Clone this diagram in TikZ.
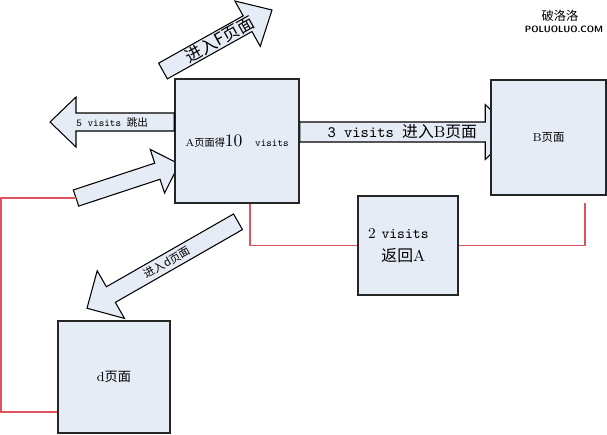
\documentclass[tikz,border=0pt]{standalone}
\usepackage{fontspec}
\newfontfamily\cjk{Noto Sans CJK SC}
\usepackage{xcolor}
\usepackage{tikz}
\usetikzlibrary{positioning,calc,backgrounds}

\definecolor{boxfill}{RGB}{230,236,246}
\definecolor{linkred}{RGB}{222,84,94}

\newcommand{\zh}[1]{{\cjk #1}}
\newcommand{\fs}[1]{\fontsize{#1}{#1}\selectfont}

% block arrow: tail, tip, half shaft, half head, head length
\newcommand{\blockarrow}[5]{%
	\coordinate (hb) at ($(#2)!#5!(#1)$);
	\filldraw[barrow] ($(#1)!#3!90:(#2)$) -- ($(hb)!#3!90:(#2)$) -- ($(hb)!#4!90:(#2)$)
	-- (#2) -- ($(hb)!#4!-90:(#2)$) -- ($(hb)!#3!-90:(#2)$) -- ($(#1)!#3!-90:(#2)$) -- cycle;
}

\begin{document}
\begin{tikzpicture}[x=0.02cm,y=-0.02cm,
	box/.style={rectangle,draw=black!85,fill=boxfill,line width=0.9pt,inner sep=2pt},
	barrow/.style={fill=boxfill,draw=black,line width=0.6pt,line join=miter},
	link/.style={draw=linkred,line width=1pt}]

	\useasboundingbox (0,0) rectangle (607,434);

	% The pages
	\node [box,minimum width=2.48cm,minimum height=2.48cm] at (237,141) (A)
		{\fs{5.8}A\zh{页面得}\fs{10}10\fs{6}\hspace{1.2em}\ttfamily visits};
	\node [box,minimum width=2.3cm,minimum height=2.3cm] at (548.5,137.5) (B)
		{\fs{6.5}B\zh{页面}};
	\node [box,minimum width=2.0cm,minimum height=1.98cm,align=left,text width=1.6cm] at (408,245.5) (R)
		{\fs{8.5}2 \ttfamily visits\\[1pt]\hspace{0.9em}\fs{9}\zh{返回}\rmfamily A};
	\node [box,minimum width=2.24cm,minimum height=2.24cm] at (114,377) (D)
		{\fs{7.5}d\zh{页面}};

	% Arrow ends
	\coordinate (Ftail) at (163,71);
	\coordinate (Ftip) at (272,10);
	\coordinate (exit) at (50,122);
	\coordinate (entry) at (76,198);

	% Block arrows
	\begin{pgfonlayer}{background}
	\blockarrow{Ftail}{Ftip}{0.18cm}{0.52cm}{0.56cm}
	\blockarrow{entry}{$(A.west)+(5,23)$}{0.17cm}{0.46cm}{0.46cm}
	\end{pgfonlayer}
	\blockarrow{$(A.west)+(0,-19)$}{exit}{0.18cm}{0.5cm}{0.52cm}
	\begin{pgfonlayer}{background}
	\blockarrow{$(A.east)+(0,-9)$}{$(B.west)+(23,-5.5)$}{0.2cm}{0.55cm}{0.56cm}
	\end{pgfonlayer}
	\blockarrow{$(A.south)+(1,18)$}{$(D.north)+(-27,-12)$}{0.18cm}{0.55cm}{0.55cm}

	% Arrow labels
	\path (Ftail) -- (Ftip) node [pos=0.52,sloped] {\fs{9.5}\zh{进入F页面}};
	\path ($(A.west)+(0,-19)$) -- (exit) node [pos=0.5] {\fs{6}\ttfamily 5 visits \zh{跳出}};
	\path ($(A.east)+(0,-9)$) -- ($(B.west)+(23,-5.5)$)
		node [pos=0.48] {\fs{9}\ttfamily 3 visits \zh{进入}\rmfamily B\zh{页面}};
	\path ($(A.south)+(1,18)$) -- ($(D.north)+(-27,-12)$)
		node [pos=0.47,sloped] {\fs{6.3}\zh{进入d页面}};

	% Return paths
	\draw[link] ($(A.south)+(13,0)$) |- (R.west);
	\draw[link] (R.east) -| ($(B.south)+(36.5,7)$);
	\draw[link] (entry) -- (1,198) |- ($(D.south west)+(0,-22)$);

	% Watermark
	\node at (560,16) {\fs{7}\zh{破洛洛}};
	\node at (564,29) {\fs{5.2}\sffamily\bfseries POLUOLUO.COM};

\end{tikzpicture}
\end{document}
